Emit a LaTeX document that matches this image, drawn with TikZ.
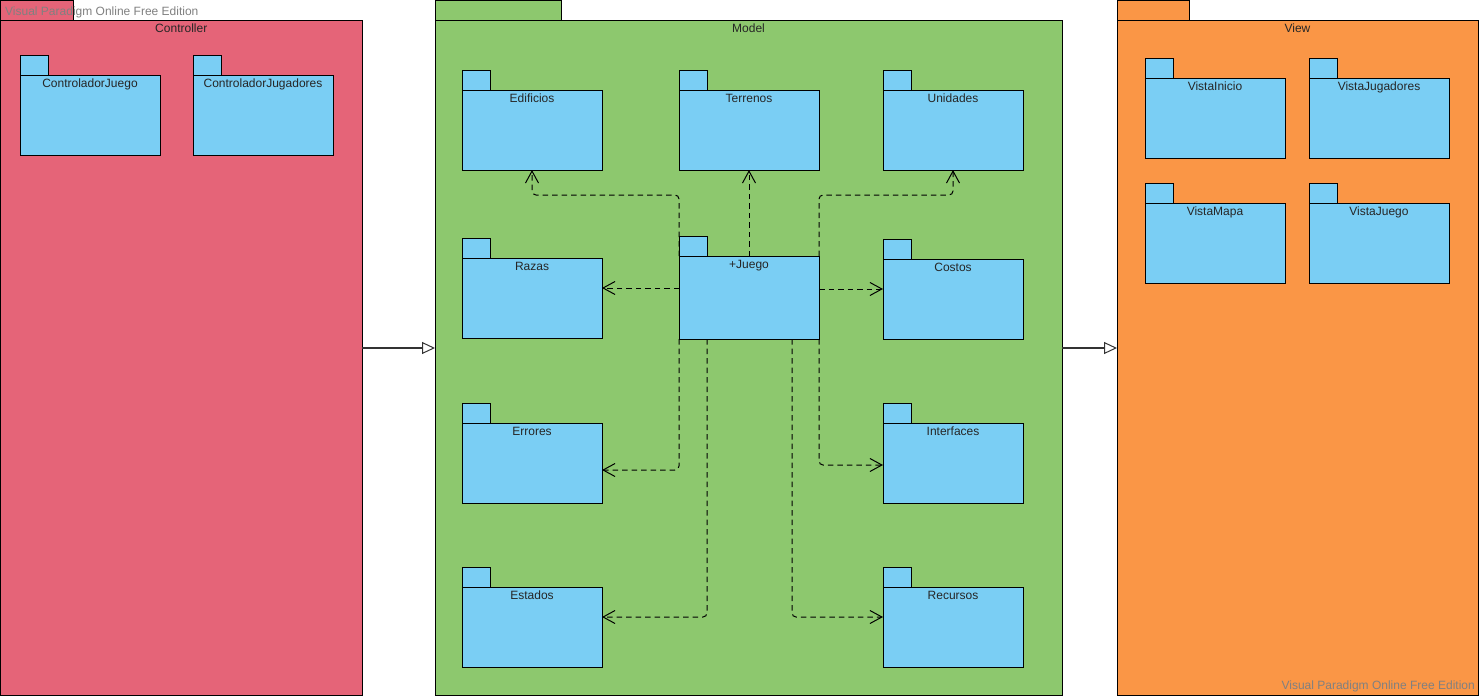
\documentclass[tikz,border=0pt]{standalone}
\usepackage{fontspec}
\setmainfont{Liberation Sans}
\usetikzlibrary{arrows.meta}

\definecolor{ctrlred}{RGB}{229,100,120}
\definecolor{modelgreen}{RGB}{141,200,110}
\definecolor{vieworange}{RGB}{250,150,70}
\definecolor{pkgblue}{RGB}{122,206,244}
\definecolor{wmgray}{RGB}{128,128,128}

% #1 name, #2 x, #3 top of body, #4 width, #5 height, #6 tab width, #7 title, #8 fill
\newcommand{\pkgbox}[8]{%
  \draw[pkgline, fill=#8] (#2,#3) rectangle ++(#6,-20);
  \node[pkgline, fill=#8, anchor=north west, minimum width=#4pt, minimum height=#5pt] (#1) at (#2,#3) {};
  \node[lbl, anchor=base] (#1-title) at ([yshift=-12.5pt]#1.north) {#7};
}

\begin{document}
\begin{tikzpicture}[x=1pt, y=-1pt,
  pkgline/.style={draw=black, line width=1pt, inner sep=0pt, outer sep=0pt},
  lbl/.style={font=\fontsize{12}{14}\selectfont, text=black!85, inner sep=0pt},
  wm/.style={font=\fontsize{12}{14}\selectfont, text=wmgray, inner sep=0pt},
  dep/.style={draw=black, line width=1pt, dash pattern=on 5.5pt off 4pt, rounded corners=4pt,
    -{Straight Barb[length=12pt,width=13pt,line width=1pt]}},
  gen/.style={draw=black!80, line width=1.3pt,
    -{Triangle[length=13pt,width=12pt,fill=white,line width=1pt]}}]
\useasboundingbox (0,0) rectangle (1480,696);

% outer packages
\pkgbox{ctrl}{0.5}{20}{361.5}{675}{72.5}{Controller}{ctrlred}
\pkgbox{model}{435}{20}{627}{675}{126}{Model}{modelgreen}
\pkgbox{view}{1117}{20}{361}{675}{72}{View}{vieworange}

% Controller contents
\pkgbox{cjuego}{20}{75}{140}{80}{28}{ControladorJuego}{pkgblue}
\pkgbox{cjug}{193}{75}{140}{80}{28}{ControladorJugadores}{pkgblue}

% Model contents
\pkgbox{edif}{462}{90}{140}{80}{28}{Edificios}{pkgblue}
\pkgbox{terr}{679}{90}{140}{80}{28}{Terrenos}{pkgblue}
\pkgbox{unid}{883}{90}{140}{80}{28}{Unidades}{pkgblue}
\pkgbox{razas}{462}{258}{140}{80}{28}{Razas}{pkgblue}
\pkgbox{juego}{679}{256}{140}{83}{28}{+Juego}{pkgblue}
\pkgbox{costos}{883}{259}{140}{80}{28}{Costos}{pkgblue}
\pkgbox{err}{462}{423}{140}{80}{28}{Errores}{pkgblue}
\pkgbox{inter}{883}{423}{140}{80}{28}{Interfaces}{pkgblue}
\pkgbox{est}{462}{587}{140}{80}{28}{Estados}{pkgblue}
\pkgbox{rec}{883}{587}{140}{80}{28}{Recursos}{pkgblue}

% View contents
\pkgbox{vini}{1145}{78}{140}{80}{28}{VistaInicio}{pkgblue}
\pkgbox{vjug}{1309}{78}{140}{80}{28}{VistaJugadores}{pkgblue}
\pkgbox{vmapa}{1145}{203}{140}{80}{28}{VistaMapa}{pkgblue}
\pkgbox{vjuego}{1309}{203}{140}{80}{28}{VistaJuego}{pkgblue}

% dependencies of +Juego
\draw[dep] (juego.north west) -- ++(0,-61) -| (edif.south);
\draw[dep] (juego.north) -- (terr.south);
\draw[dep] (juego.north east) -- ++(0,-61) -| (unid.south);
\draw[dep] ([yshift=9.5pt]juego.west) -- ([yshift=10pt]razas.east);
\draw[dep] ([yshift=8.5pt]juego.east) -- ([yshift=10pt]costos.west);
\draw[dep] (juego.south west) |- ([yshift=-7pt]err.east);
\draw[dep] ([xshift=28pt]juego.south west) |- ([yshift=10pt]est.east);
\draw[dep] (juego.south east) |- ([yshift=-2pt]inter.west);
\draw[dep] ([xshift=-27pt]juego.south east) |- ([yshift=10pt]rec.west);

% layer relations
\draw[gen] ([yshift=9.5pt]ctrl.east) -- ([yshift=9.5pt]model.west);
\draw[gen] ([yshift=9.5pt]model.east) -- ([yshift=9.5pt]view.west);

% edition marks
\node[wm, anchor=west] (wmtop) at (5,12) {Visual Paradigm Online Free Edition};
\node[wm, anchor=east] (wmbottom) at (1475,686) {Visual Paradigm Online Free Edition};
\end{tikzpicture}
\end{document}
